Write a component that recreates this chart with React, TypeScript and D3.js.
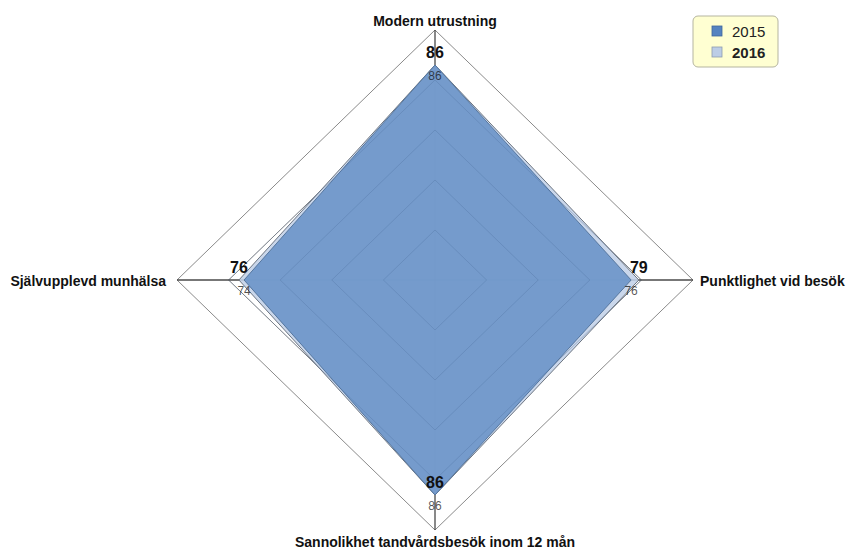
import React from "react";
import * as d3 from "d3";

const axes = [
  "Modern utrustning",
  "Punktlighet vid besök",
  "Sannolikhet tandvårdsbesök inom 12 mån",
  "Självupplevd munhälsa",
];
const values2015 = [86, 76, 86, 74];
const values2016 = [86, 79, 86, 76];
const gridLevels = [20, 40, 60, 80, 100];
const seriesNames = ["2015", "2016"];

const W = 849;
const H = 550;
const cx = 435;
const cy = 280;
const rx = d3.scaleLinear().domain([0, 100]).range([0, 258]);
const ry = d3.scaleLinear().domain([0, 100]).range([0, 250]);

const FONT = "'Liberation Sans', Arial, sans-serif";

// angle: 0 = top, clockwise
const angleScale = d3
  .scaleLinear()
  .domain([0, axes.length])
  .range([0, 2 * Math.PI]);

function pt(i: number, v: number): [number, number] {
  const a = angleScale(i);
  return [cx + Math.sin(a) * rx(v), cy - Math.cos(a) * ry(v)];
}

const closedLine = d3.line<[number, number]>().curve(d3.curveLinearClosed);

export default function App() {
  const poly = (vals: number[]) => closedLine(vals.map((v, i) => pt(i, v))) as string;

  const labelAnchor = (i: number) => {
    if (i === 0) return { x: cx, y: cy - ry(100) - 4, anchor: "middle" };
    if (i === 1) return { x: cx + rx(100) + 7, y: cy + 6, anchor: "start" };
    if (i === 2) return { x: cx, y: cy + ry(100) + 17, anchor: "middle" };
    return { x: cx - rx(100) - 11, y: cy + 6, anchor: "end" };
  };

  return (
    <svg
      width={W}
      height={H}
      style={{ position: "absolute", left: 0, top: 0, background: "#fff" }}
      fontFamily={FONT}
    >
      {/* grid rings */}
      {gridLevels.map((g) => (
        <path
          key={g}
          d={poly(axes.map(() => g))}
          fill="none"
          stroke="#8a8a8a"
          strokeWidth={1}
        />
      ))}
      {/* spokes */}
      {axes.map((_, i) => {
        const [x, y] = pt(i, 100);
        return (
          <line key={i} x1={cx} y1={cy} x2={x} y2={y} stroke="#4a4a4a" strokeWidth={1.3} />
        );
      })}

      {/* 2016 area */}
      <path
        d={poly(values2016)}
        fill="#c3d2e8"
        fillOpacity={0.88}
        stroke="#6d7580"
        strokeWidth={1}
      />
      {/* 2015 area */}
      <path
        d={poly(values2015)}
        fill="#6b95c9"
        fillOpacity={0.9}
        stroke="#56779f"
        strokeWidth={1}
      />

      {/* faint grid visible through fills */}
      {gridLevels.slice(0, 4).map((g) => (
        <path
          key={"o" + g}
          d={poly(axes.map(() => g))}
          fill="none"
          stroke="#3e5f8c"
          strokeOpacity={0.22}
          strokeWidth={1}
        />
      ))}

      {/* 2015 value labels */}
      {values2015.map((v, i) => {
        const [x, y] = pt(i, v);
        return (
          <text
            key={i}
            x={x}
            y={y + 15}
            textAnchor="middle"
            fontSize={12}
            fill="#111"
            fillOpacity={0.72}
          >
            {v}
          </text>
        );
      })}

      {/* 2016 value labels */}
      {values2016.map((v, i) => {
        const [x, y] = pt(i, v);
        return (
          <text
            key={i}
            x={x}
            y={y - 7}
            textAnchor="middle"
            fontSize={16}
            fontWeight="bold"
            fill="#111"
          >
            {v}
          </text>
        );
      })}

      {/* axis labels */}
      {axes.map((name, i) => {
        const l = labelAnchor(i);
        return (
          <text
            key={name}
            x={l.x}
            y={l.y}
            textAnchor={l.anchor as any}
            fontSize={14}
            fontWeight="bold"
            fill="#111"
          >
            {name}
          </text>
        );
      })}

      {/* legend */}
      <g transform="translate(693,16)">
        <rect
          x={0}
          y={0}
          width={85}
          height={51}
          rx={5}
          fill="#ffffd2"
          stroke="#b5b5a0"
          strokeWidth={1}
        />
        {seriesNames.map((s, i) => (
          <g key={s} transform={`translate(0,${i * 21})`}>
            <rect
              x={19}
              y={10}
              width={10}
              height={10}
              fill={i === 0 ? "#5583c0" : "#bccde6"}
              stroke={i === 0 ? "#3f669c" : "#8d9bb0"}
              strokeWidth={0.8}
            />
            <text
              x={39}
              y={21}
              fontSize={15}
              fontWeight={i === 1 ? "bold" : "normal"}
              fill="#222"
            >
              {s}
            </text>
          </g>
        ))}
      </g>
    </svg>
  );
}
